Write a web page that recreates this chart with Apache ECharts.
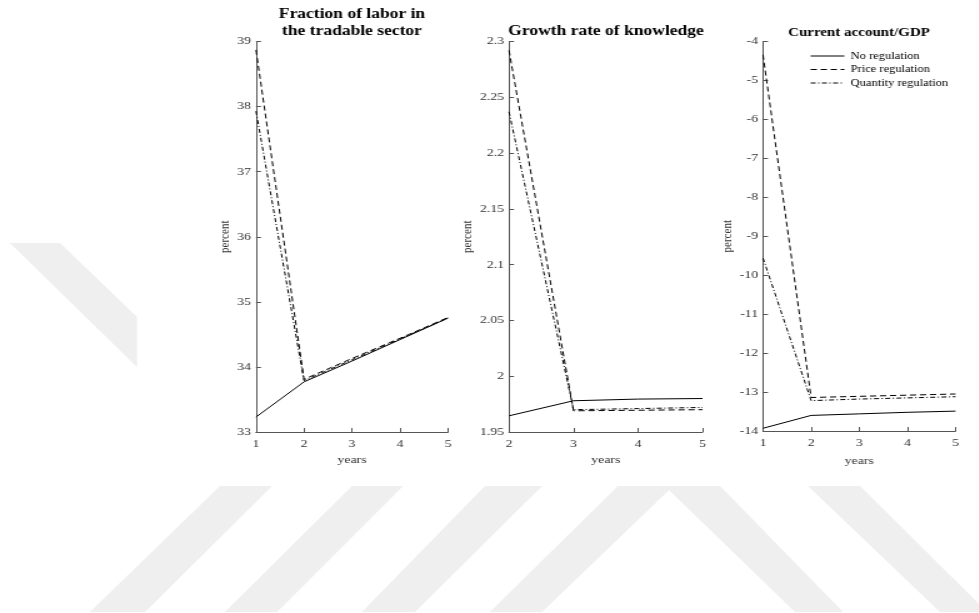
<!DOCTYPE html>
<html>
<head>
<meta charset="utf-8">
<script src="https://cdn.jsdelivr.net/npm/echarts@6/dist/echarts.min.js"></script>
<style>
  html, body { margin: 0; padding: 0; background: #ffffff; overflow: hidden; }
  /* The figure is drawn in a narrower canvas and stretched horizontally */
  #chart { width: 783.2px; height: 613px; transform: scaleX(1.25); transform-origin: 0 0; }
</style>
</head>
<body>
<div id="chart"></div>
<script>
// Horizons (years) for each panel
const yearsFull = [1, 2, 3, 4, 5];
const yearsKnow = [2, 3, 4, 5];

// Fraction of labor in the tradable sector (percent)
const laborNo    = [33.23, 33.77, 34.09, 34.42, 34.75];
const laborPrice = [38.87, 33.81, 34.13, 34.44, 34.76];
const laborQty   = [37.93, 33.79, 34.11, 34.43, 34.75];

// Growth rate of knowledge (percent)
const knowNo    = [1.9645, 1.978, 1.9795, 1.980];
const knowPrice = [2.292, 1.969, 1.9695, 1.970];
const knowQty   = [2.237, 1.970, 1.971, 1.972];

// Current account / GDP (percent)
const caNo    = [-13.93, -13.60, -13.56, -13.52, -13.49];
const caPrice = [-4.34, -13.14, -13.11, -13.08, -13.05];
const caQty   = [-9.56, -13.22, -13.18, -13.15, -13.12];

const seriesNames = ['No regulation', 'Price regulation', 'Quantity regulation'];
const panelTitles = ['Fraction of labor in', 'the tradable sector', 'Growth rate of knowledge', 'Current account/GDP'];
const yAxisName = 'percent';
const xAxisName = 'years';

const S = 1.25; // horizontal stretch applied by CSS
const SERIF = '"Liberation Serif", "DejaVu Serif", serif';
const dashStyles = ['solid', [5, 3], [4, 2, 1, 2]];

function pairs(xs, ys) { return xs.map((x, i) => [x, ys[i]]); }

const panels = [
  { xs: yearsFull, sets: [laborNo, laborPrice, laborQty], xmin: 1, ymin: 33, ymax: 39, yint: 1, nameGap: 11, xNameGap: 22 },
  { xs: yearsKnow, sets: [knowNo, knowPrice, knowQty], xmin: 2, ymin: 1.95, ymax: 2.3, yint: 0.05, nameGap: 21, xNameGap: 22 },
  { xs: yearsFull, sets: [caNo, caPrice, caQty], xmin: 1, ymin: -14, ymax: -4, yint: 1, nameGap: 18, xNameGap: 25 }
];

const grids = [
  { left: 256 / S, top: 41.5, width: 192 / S, height: 390.5 },
  { left: 509 / S, top: 41.5, width: 193.5 / S, height: 390.5 },
  { left: 763 / S, top: 41.5, width: 192.5 / S, height: 389.5 }
];

const axisLine = { show: true, lineStyle: { color: '#555', width: 1 } };
const axisTick = { show: true, inside: true, length: 4, lineStyle: { color: '#555', width: 1 } };
const labelFont = { color: '#333', fontFamily: SERIF, fontSize: 11 };

const xAxes = panels.map((p, i) => ({
  type: 'value', gridIndex: i, min: p.xmin, max: 5, interval: 1,
  axisLine, axisTick, splitLine: { show: false },
  axisLabel: Object.assign({ margin: 7 }, labelFont),
  name: xAxisName, nameLocation: 'middle', nameGap: p.xNameGap,
  nameTextStyle: labelFont
}));

const yAxes = panels.map((p, i) => ({
  type: 'value', gridIndex: i, min: p.ymin, max: p.ymax, interval: p.yint,
  axisLine, axisTick, splitLine: { show: false },
  axisLabel: Object.assign({ margin: 4 }, labelFont),
  name: yAxisName, nameLocation: 'middle', nameGap: p.nameGap,
  nameTextStyle: labelFont
}));

const series = [];
panels.forEach((p, i) => {
  p.sets.forEach((vals, k) => {
    series.push({
      name: seriesNames[k], type: 'line', xAxisIndex: i, yAxisIndex: i,
      data: pairs(p.xs, vals), symbol: 'none', animation: false,
      itemStyle: { color: '#000' },
      lineStyle: { color: '#000', width: 1, type: dashStyles[k] }
    });
  });
});

// Faint background watermark stripes
const wmColor = '#efefef';
const watermark = [
  [[10, 243], [60, 243], [137, 317], [137, 367]],
  [[220, 486], [272, 486], [145, 612], [90, 612]],
  [[352, 486], [403, 486], [277, 612], [225, 612]],
  [[485, 486], [542, 486], [415, 612], [362, 612]],
  [[618, 486], [720, 486], [843, 612], [795, 612], [669, 490], [542, 612], [490, 612]],
  [[808, 486], [860, 486], [979, 604], [979, 612], [940, 612]]
].map(pts => ({
  type: 'polygon', silent: true, z: -10,
  shape: { points: pts.map(([x, y]) => [x / S, y]) },
  style: { fill: wmColor }
}));

function titleText(x, y, text, size) {
  return {
    type: 'text', x: x / S, y,
    style: { text, font: 'bold ' + size + 'px ' + SERIF, fill: '#000', textAlign: 'center', textVerticalAlign: 'middle' }
  };
}
const titles = [
  titleText(352, 14, panelTitles[0], 14),
  titleText(352, 31.5, panelTitles[1], 14),
  titleText(606, 31.5, panelTitles[2], 14),
  titleText(859, 32.5, panelTitles[3], 12)
];

const chart = echarts.init(document.getElementById('chart'), null, { renderer: 'canvas' });
chart.setOption({
  backgroundColor: '#ffffff',
  animation: false,
  grid: grids,
  xAxis: xAxes,
  yAxis: yAxes,
  legend: {
    data: seriesNames, orient: 'vertical', left: 810 / S, top: 51,
    itemWidth: 27, itemHeight: 10, itemGap: 3.5, padding: 0,
    itemStyle: { opacity: 0 },
    lineStyle: { width: 1 },
    textStyle: { color: '#000', fontFamily: SERIF, fontSize: 10 },
    selectedMode: false
  },
  graphic: watermark.concat(titles),
  series
});
</script>
</body>
</html>
